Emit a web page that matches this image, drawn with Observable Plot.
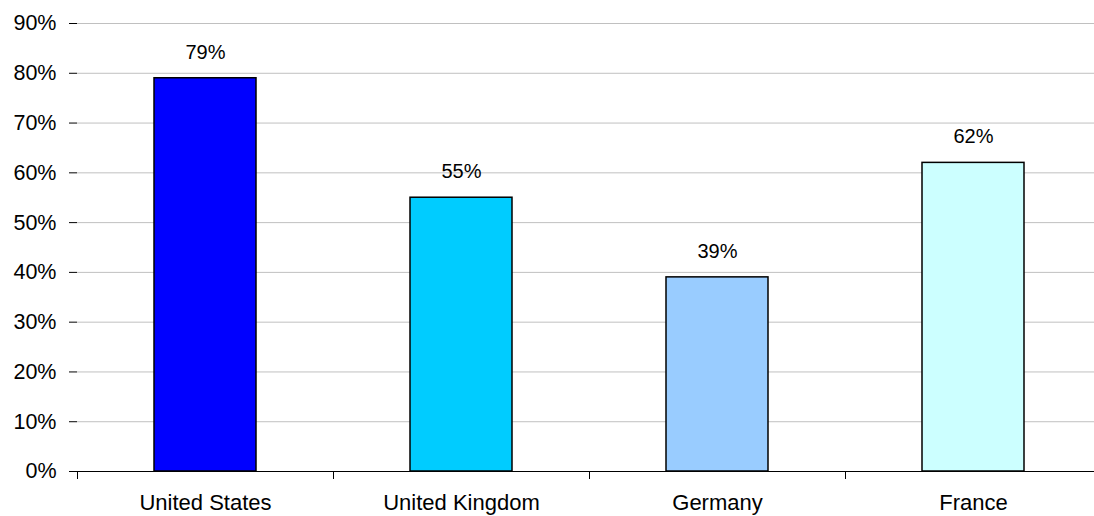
<!DOCTYPE html>
<html>
<head>
<meta charset="utf-8">
<script src="https://cdn.jsdelivr.net/npm/d3@7"></script>
<script src="https://cdn.jsdelivr.net/npm/@observablehq/plot@0.6"></script>
<style>
  html, body { margin: 0; padding: 0; background: #fff; }
  svg { display: block; }
</style>
</head>
<body>
<div id="chart"></div>
<script>
const countries = ["United States", "United Kingdom", "Germany", "France"];
const shares = [79, 55, 39, 62];
const barColors = ["#0000ff", "#00ccff", "#99ccff", "#ccffff"];
const yTicks = [0, 10, 20, 30, 40, 50, 60, 70, 80, 90];

const rows = countries.map((c, i) => ({country: c, value: shares[i], color: barColors[i]}));

const chart = Plot.plot({
  width: 1094,
  height: 516,
  marginTop: 23,
  marginBottom: 45,
  marginLeft: 77,
  marginRight: 0,
  style: {fontFamily: "Liberation Sans, Arial, sans-serif", fontSize: "20px", color: "#000", background: "#fff"},
  x: {domain: countries, range: [77, 1101], paddingInner: 0.6, paddingOuter: 0.3, label: null},
  y: {domain: [0, 90], range: [471, 23], label: null},
  marks: [
    Plot.gridY(yTicks, {stroke: "#c0c0c0", strokeOpacity: 1, strokeWidth: 1}),
    Plot.barY(rows, {x: "country", y: "value", fill: "color", stroke: "#000", strokeWidth: 1.5}),
    Plot.text(rows, {x: "country", y: "value", text: d => d.value + "%", dy: -26, fontSize: 20, fill: "#000"}),
    Plot.axisY(yTicks, {tickFormat: d => d + "%", tickSize: 8, tickPadding: 13, stroke: "#000", fontSize: 21.5}),
    Plot.ruleX([0], {x: () => 77, stroke: "#000"}),
    Plot.ruleY([0], {stroke: "#000", strokeWidth: 1}),
    Plot.axisX({tickSize: 0, tickPadding: 23, fontSize: 22})
  ]
});

// category divider ticks below the baseline
const svg = d3.select(chart);
const step = (1101 - 77) / countries.length;
const dividers = d3.range(countries.length).map(i => 77 + i * step);
svg.append("g")
  .selectAll("line")
  .data(dividers)
  .join("line")
  .attr("x1", d => d + 0.5).attr("x2", d => d + 0.5)
  .attr("y1", 471).attr("y2", 479)
  .attr("stroke", "#000");

document.getElementById("chart").appendChild(chart);
</script>
</body>
</html>
